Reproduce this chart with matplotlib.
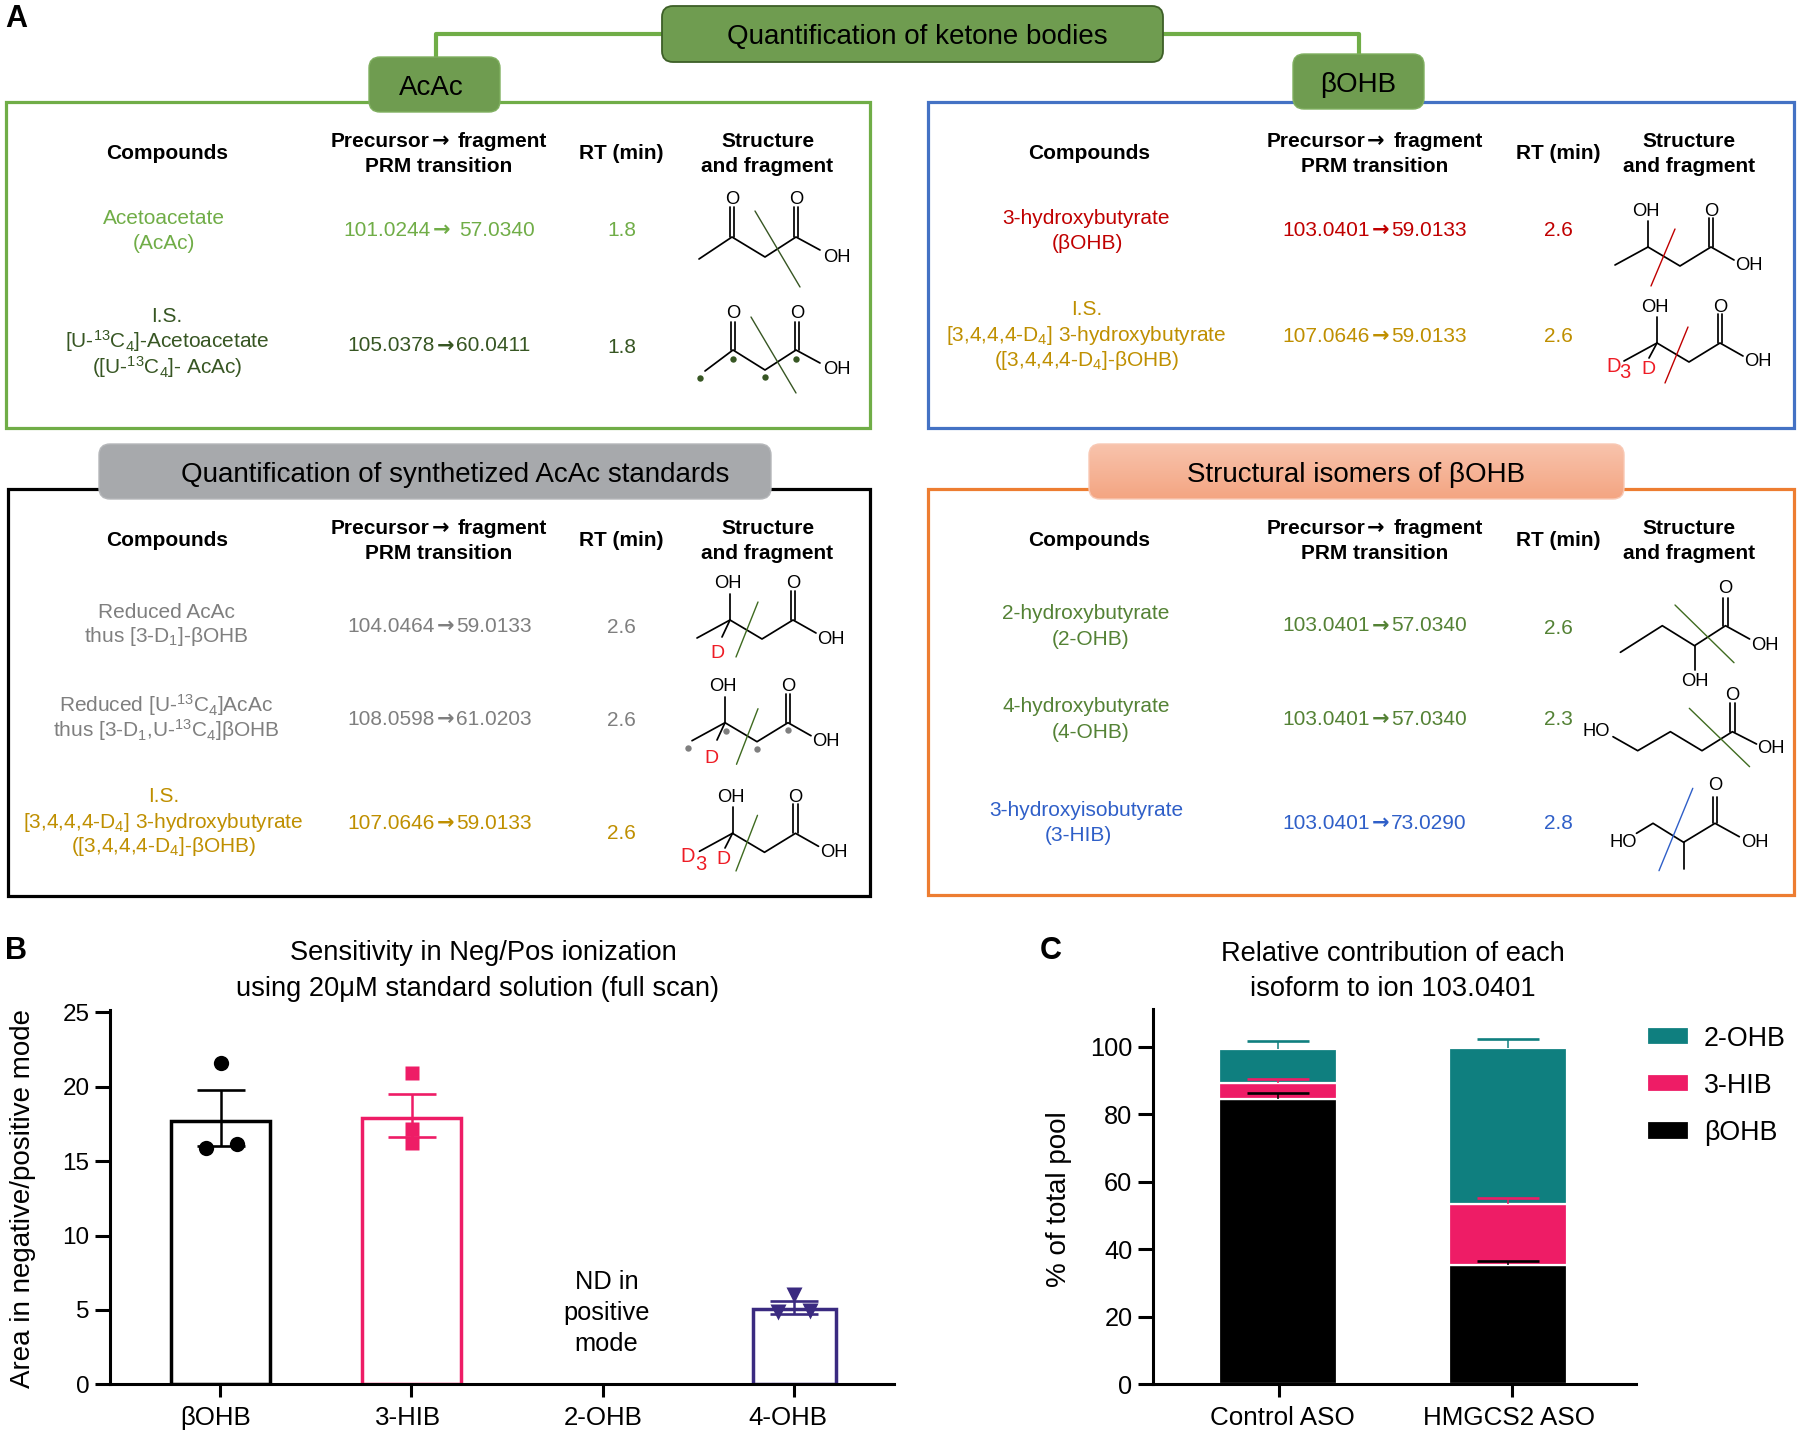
import numpy as np
import matplotlib
matplotlib.use("Agg")
import matplotlib.pyplot as plt
from matplotlib.patches import FancyBboxPatch, Rectangle
from matplotlib.colors import LinearSegmentedColormap
from matplotlib.transforms import ScaledTranslation

plt.rcParams['font.family'] = ['Liberation Sans', 'DejaVu Sans']
plt.rcParams['mathtext.fontset'] = 'custom'
plt.rcParams['mathtext.rm'] = 'Liberation Sans'
plt.rcParams['mathtext.it'] = 'Liberation Sans'
plt.rcParams['mathtext.bf'] = 'Liberation Sans:bold'
plt.rcParams['mathtext.default'] = 'regular'

# ---------- data: panel B ----------
b_categories = ["βOHB", "3-HIB", "2-OHB", "4-OHB"]
b_means = [17.72, 17.9, 0, 5.06]
b_err_low = [1.72, 1.25, 0, 0.33]
b_err_high = [2.04, 1.6, 0, 0.54]
b_points_bohb = [21.57, 15.9, 16.15]
b_points_hib = [20.9, 17.16, 16.2]
b_points_4ohb = [6.0, 4.88, 4.9]
b_yticks = [0, 5, 10, 15, 20, 25]
# ---------- data: panel C ----------
c_categories = ["Control ASO", "HMGCS2 ASO"]
c_bohb = [84.4, 35.2]
c_hib = [4.9, 18.3]
c_2ohb = [10.1, 46.2]
c_err_bohb = [1.9, 1.4]
c_err_hib = [1.2, 1.6]
c_err_2ohb = [2.2, 2.6]
c_yticks = [0, 20, 40, 60, 80, 100]
# ---------- data: tables ----------
acac_names = [["Acetoacetate", "(AcAc)"],
              ["I.S.", "[U-$^{13}$C$_4$]-Acetoacetate", "([U-$^{13}$C$_4$]- AcAc)"]]
acac_trans = ["101.0244→ 57.0340", "105.0378→60.0411"]
acac_rt = ["1.8", "1.8"]
bohb_names = [["3-hydroxybutyrate", "(βOHB)"],
              ["I.S.", "[3,4,4,4-D$_4$] 3-hydroxybutyrate", "([3,4,4,4-D$_4$]-βOHB)"]]
bohb_trans = ["103.0401→59.0133", "107.0646→59.0133"]
bohb_rt = ["2.6", "2.6"]
std_names = [["Reduced AcAc", "thus [3-D$_1$]-βOHB"],
             ["Reduced [U-$^{13}$C$_4$]AcAc", "thus [3-D$_1$,U-$^{13}$C$_4$]βOHB"],
             ["I.S.", "[3,4,4,4-D$_4$] 3-hydroxybutyrate", "([3,4,4,4-D$_4$]-βOHB)"]]
std_trans = ["104.0464→59.0133", "108.0598→61.0203", "107.0646→59.0133"]
std_rt = ["2.6", "2.6", "2.6"]
iso_names = [["2-hydroxybutyrate", "(2-OHB)"],
             ["4-hydroxybutyrate", "(4-OHB)"],
             ["3-hydroxyisobutyrate", "(3-HIB)"]]
iso_trans = ["103.0401→57.0340", "103.0401→57.0340", "103.0401→73.0290"]
iso_rt = ["2.6", "2.3", "2.8"]

# ---------- styles ----------
GREEN = '#70AD47'; DGREEN = '#375623'; RED = '#C00000'; GOLD = '#BF8F00'
GREY = '#7F7F7F'; MGREEN = '#548235'; BLUE = '#2F5FC8'; BRIGHTRED = '#EE1C25'
CUTGREEN = '#3F6B20'
PINK = '#EE1C66'; INDIGO = '#3A2A80'; TEAL = '#0F7F7F'
PILL = '#6F9C50'
TS = 15.0

fig = plt.figure(figsize=(18, 14.35), dpi=100, facecolor='white')
ov = fig.add_axes([0, 0, 1, 1], zorder=0)
ov.set_xlim(0, 1800); ov.set_ylim(1435, 0); ov.axis('off')
renderer = fig.canvas.get_renderer()


def T(x, y, s, size=TS, color='black', weight='normal', ha='center'):
    y = y - 1.2 - (1.5 if '$' in s else 0)
    return ov.text(x, y, s, fontsize=size, color=color, fontweight=weight, ha=ha, va='center_baseline', zorder=7)


def TA(xc, y, s, color='black', weight='normal', size=TS, gap=21):
    """Text with a heavy arrow between two parts; a blank after the arrow widens the gap."""
    a, b = s.split('→')
    if b.startswith(' '):
        gap += 7
        b = b.strip()
    t1 = T(0, y, a, size, color, weight, ha='left')
    t2 = T(0, y, b, size, color, weight, ha='left')
    w1 = t1.get_window_extent(renderer).width
    w2 = t2.get_window_extent(renderer).width
    x0 = xc - (w1 + gap + w2) / 2
    t1.set_x(x0)
    t2.set_x(x0 + w1 + gap)
    ov.text(x0 + w1 + 10.5, y - 1.2, '→', fontsize=size, color=color, fontweight='bold', family='DejaVu Sans',
            ha='center', va='center_baseline', zorder=7)


def box(l, t, r, b, color):
    ov.add_patch(Rectangle((l, t), r - l, b - t, fill=False, edgecolor=color, lw=2.3, joinstyle='miter', zorder=2))


def pill(l, t, r, b, face, edge, lw=1.0, rad=11):
    p = FancyBboxPatch((l, t), r - l, b - t, boxstyle=f"round,pad=0,rounding_size={rad}",
                       facecolor=face, edgecolor=edge, lw=lw, zorder=4)
    ov.add_patch(p)
    return p


def L(xs, ys, color='black', lw=1.25, z=5):
    ov.plot(xs, ys, color=color, lw=lw, solid_capstyle='round', zorder=z)


def dbl(x, y0, y1, color='black'):
    for d in (-2.1, 2.1):
        L([x + d, x + d], [y0, y1], color)


def chem(x, y, s, color='black', size=13.2):
    ov.text(x, y, s, fontsize=size, color=color, ha='center', va='center', zorder=6)


def dots(pts, color):
    for x, y in pts:
        ov.plot([x], [y], 'o', ms=4.6, color=color, mec='none', zorder=6)


# ---------- panel A frames ----------
L([662, 436, 436], [34, 34, 57], GREEN, lw=3, z=1)
L([1163, 1359, 1359], [34, 34, 54], GREEN, lw=3, z=1)
box(6, 102, 870, 428, GREEN)
box(928, 102, 1794, 428, '#4472C4')
box(8, 489, 870, 896, 'black')
box(928, 489, 1794, 895, '#ED7D31')
pill(662, 6, 1163, 62, PILL, '#3D5F27', lw=1.3)
pill(369, 57, 500, 112, PILL, '#7FAF5F')
pill(1293, 54, 1424, 109, PILL, '#7FAF5F')
pill(99, 444, 771, 499, '#A7A9AC', '#B5B7BA')
op = pill(1089, 444, 1624, 499, 'none', '#F8C8B4')
grad = LinearSegmentedColormap.from_list('g', ['#F8C3AC', '#F4A582'])
im = ov.imshow(np.linspace(0, 1, 64).reshape(-1, 1), cmap=grad, extent=(1089, 1624, 499, 444),
               aspect='auto', zorder=3.9)
im.set_clip_path(op)
ov.set_xlim(0, 1800); ov.set_ylim(1435, 0)

T(917.5, 35.5, "Quantification of ketone bodies", 20)
T(431, 86.5, "AcAc", 20)
T(1358, 83, "βOHB", 20)
T(455.5, 473.5, "Quantification of synthetized AcAc standards", 20)
T(1356.5, 473.5, "Structural isomers of βOHB", 20)

T(16, 17, "A", 22, weight='bold')
T(16, 949, "B", 22, weight='bold')
T(1051, 949, "C", 22, weight='bold')


def headers(xs, y):
    T(xs[0], y, "Compounds", weight='bold')
    TA(xs[1], y - 12.5, "Precursor→ fragment", weight='bold')
    T(xs[1], y + 12.5, "PRM transition", weight='bold')
    T(xs[2], y, "RT (min)", weight='bold')
    T(xs[3], y - 12.5, "Structure", weight='bold')
    T(xs[3], y + 12.5, "and fragment", weight='bold')


LX = (166.7, 439, 621, 767.5)
RX = (1089.4, 1374.5, 1558, 1689.3)
headers(LX, 153); headers(RX, 153)
headers(LX, 540); headers(RX, 540)


def row(names, name_pos, trans, tx, ty, rt, rx, ry, color):
    for s, (x, y) in zip(names, name_pos):
        T(x, y, s, color=color)
    TA(tx, ty, trans, color=color)
    T(rx, ry, rt, color=color)


row(acac_names[0], [(164, 218), (164, 243)], acac_trans[0], 439, 229.5, acac_rt[0], 621.4, 230, GREEN)
row(acac_names[1], [(167, 316), (167, 341), (167, 367)], acac_trans[1], 439, 345, acac_rt[1], 621.4, 346.7, DGREEN)
row(bohb_names[0], [(1086, 218), (1087, 243)], bohb_trans[0], 1374.5, 229.7, bohb_rt[0], 1558, 230, RED)
row(bohb_names[1], [(1086.6, 309), (1086.6, 335), (1086.6, 360)], bohb_trans[1], 1374.5, 335.7, bohb_rt[1], 1558, 335.7, GOLD)
row(std_names[0], [(166.5, 611.7), (166.5, 636.7)], std_trans[0], 439.4, 625.3, std_rt[0], 621, 626.7, GREY)
row(std_names[1], [(166.5, 705), (166.5, 730)], std_trans[1], 439.4, 718.3, std_rt[1], 621, 719.3, GREY)
row(std_names[2], [(163.6, 795.3), (163.6, 821.7), (163.6, 846.7)], std_trans[2], 439.4, 822.7, std_rt[2], 621, 832.7, GOLD)
row(iso_names[0], [(1086, 612.7), (1091, 638.3)], iso_trans[0], 1374.5, 625, iso_rt[0], 1558, 627.7, MGREEN)
row(iso_names[1], [(1086, 706), (1091, 731.7)], iso_trans[1], 1374.5, 718.3, iso_rt[1], 1558, 719, MGREEN)
row(iso_names[2], [(1086, 810), (1078, 835)], iso_trans[2], 1374.5, 822.3, iso_rt[2], 1558, 822.3, BLUE)


# ---------- structures ----------
def hydroxy(cx, cy, cut, cutc, ch3=True):
    """3-hydroxybutyrate skeleton anchored on its CH(OH) carbon"""
    if ch3:
        L([cx - 33, cx], [cy + 18, cy])
    L([cx, cx + 32, cx + 63, cx + 86], [cy, cy + 19, cy, cy + 13])
    L([cx, cx], [cy, cy - 26])
    dbl(cx + 63, cy, cy - 29)
    chem(cx - 2, cy - 36, "OH"); chem(cx + 63, cy - 36, "O"); chem(cx + 101, cy + 19, "OH")
    L([cx + cut[0], cx + cut[2]], [cy + cut[1], cy + cut[3]], cutc, lw=1.0, z=6)


# AcAc
L([699, 732, 765, 796, 820], [259, 237, 257, 237, 250])
dbl(732, 237, 207); dbl(796, 237, 207)
chem(732, 200, "O"); chem(796, 200, "O"); chem(837, 257, "OH")
L([755, 800], [211, 287], DGREEN, lw=1.0, z=6)
# 13C AcAc
L([705, 733, 765, 796, 820], [371, 350, 370, 350, 363])
dbl(733, 350, 322); dbl(797, 350, 322)
chem(733, 313, "O"); chem(797, 313, "O"); chem(837, 369, "OH")
L([751, 796], [317, 393], DGREEN, lw=1.0, z=6)
dots([(700, 378), (733, 359), (765, 377), (796, 359)], DGREEN)
# bOHB
hydroxy(1648, 247, (27, -18, 3, 39), RED)
# D4 bOHB
hydroxy(1657, 343, (31, -16, 8, 40), RED)
L([1657, 1649], [343, 358])
chem(1613.5, 367, "D", BRIGHTRED, 14.5); chem(1625, 373, "3", BRIGHTRED, 14.5); chem(1648, 369, "D", BRIGHTRED, 14)
# D1
hydroxy(730, 620, (28, -18, 6, 37), CUTGREEN)
L([730, 722], [620, 637]); chem(717.6, 653, "D", BRIGHTRED, 14)
# D1 13C
hydroxy(725, 722.7, (33, -14, 11.5, 41.6), CUTGREEN)
L([725, 717], [722.7, 740]); chem(711.8, 758.3, "D", BRIGHTRED, 14)
dots([(687.7, 747.7), (726, 731), (756.6, 749), (787.6, 730)], GREY)
# D4 in standards panel
hydroxy(732.5, 833.3, (25, -18, 3.5, 37.7), CUTGREEN)
L([732.5, 725], [833.3, 848])
chem(687.7, 857, "D", BRIGHTRED, 14.5); chem(701, 864, "3", BRIGHTRED, 14.5); chem(723, 859, "D", BRIGHTRED, 14)
# 2-OHB
L([1620.4, 1662.3, 1694.5, 1725.5, 1749.6], [652.3, 625.7, 645.7, 625.7, 639])
dbl(1725.5, 625.7, 598.3)
L([1694.5, 1694.5], [645.7, 670])
chem(1725.5, 588.3, "O"); chem(1764.5, 645, "OH"); chem(1694.5, 681, "OH")
L([1675, 1734], [605, 662.7], CUTGREEN, lw=1.0, z=6)
# 4-OHB
L([1613, 1637.7, 1670.4, 1702, 1732.4, 1756.5], [736.7, 750.7, 731.7, 750.7, 731.7, 744])
dbl(1732.4, 731.7, 703)
chem(1595.8, 731, "HO"); chem(1732.4, 695, "O"); chem(1770.8, 748.3, "OH")
L([1689.3, 1749.6], [708.3, 766.7], CUTGREEN, lw=1.0, z=6)
# 3-HIB
L([1636.5, 1653, 1683.6, 1715, 1739.3], [833.3, 823.3, 842.3, 823.3, 836.7])
dbl(1715, 823.3, 796.7)
L([1683.6, 1683.6], [842.3, 869.3])
chem(1623, 842.3, "HO"); chem(1715, 786, "O"); chem(1754.8, 842.3, "OH")
L([1692.8, 1659], [788.3, 870.7], BLUE, lw=1.0, z=6)


# ---------- charts ----------
def px_axes(l, t, r, b):
    ax = fig.add_axes([l / 1800, (1435 - b) / 1435, (r - l) / 1800, (b - t) / 1435], zorder=3)
    ax.patch.set_alpha(0)
    for s in ('top', 'right'):
        ax.spines[s].set_visible(False)
    for s in ('left', 'bottom'):
        ax.spines[s].set_linewidth(2.2)
    return ax


def nudge(ax, offsets):
    for lab, dx in zip(ax.get_xticklabels(), offsets):
        lab.set_transform(lab.get_transform() + ScaledTranslation(dx / 100, 0, fig.dpi_scale_trans))


# Panel B
axb = px_axes(110, 1010, 894, 1384.3)
axb.set_xlim(-0.5715, 3.52)
axb.set_ylim(0, (1384.3 - 1010) / 14.88)
bx = np.arange(len(b_categories))
b_widths = [0.515, 0.515, 0.43, 0.43]
b_colors = ['black', PINK, 'none', INDIGO]
axb.bar(bx + np.array([0.005, 0.003, 0, 0]), b_means, width=b_widths, facecolor='none',
        edgecolor=b_colors, lw=2.5, zorder=2)
b_sets = [(0, b_points_bohb, [0.01, -0.07, 0.09], 'o', 'black', 11),
          (1, b_points_hib, [0.004, 0.004, 0.004], 's', PINK, 10.5),
          (3, b_points_4ohb, [0, -0.083, 0.08], 'v', INDIGO, 11)]
for i, pts, jit, mk, col, ms in b_sets:
    axb.errorbar(i + jit[0], b_means[i], yerr=[[b_err_low[i]], [b_err_high[i]]], color=col,
                 elinewidth=1.8, capsize=17, capthick=1.9, zorder=3, clip_on=False)
    axb.plot(i + np.array(jit), pts, ls='none', marker=mk, color=col, mec='none', ms=ms, zorder=4, clip_on=False)
axb.set_xticks(bx, b_categories, fontsize=18.6)
axb.set_yticks(b_yticks)
axb.tick_params(axis='y', labelsize=17.5, length=10.8, width=2.2, pad=4)
axb.tick_params(axis='x', length=9.5, width=2.2, pad=6)
nudge(axb, [-3.5, -3, 0, -6])
axb.set_ylabel("Area in negative/positive mode", fontsize=20, va='center')
axb.yaxis.set_label_coords(-0.111, 0.497)
for y, s in zip((1282, 1313, 1344), ("ND in", "positive", "mode")):
    T(606.5, y - 1, s, 18.3)
T(483.6, 951.7, "Sensitivity in Neg/Pos ionization", 19.6)
T(478, 987.7, "using 20μM standard solution (full scan)", 19.6)

# Panel C
axc = px_axes(1153, 1009, 1636, 1384.3)
axc.set_xlim(-0.543, 1.557)
axc.set_ylim(0, (1384.3 - 1009) / 3.376)
cx = np.arange(len(c_categories))
bottoms = np.zeros(len(cx))
handles = []
series = [(c_bohb, 'black', c_err_bohb), (c_hib, PINK, c_err_hib), (c_2ohb, TEAL, c_err_2ohb)]
for vals, col, errs in series:
    h = axc.bar(cx, vals, bottom=bottoms, width=0.513, color=col, edgecolor='white', lw=1.6, zorder=2)
    handles.append(h)
    tops = bottoms + np.array(vals)
    axc.errorbar(cx, tops, yerr=[np.zeros_like(tops), errs], fmt='none', ecolor=col, elinewidth=1.1, zorder=3)
    axc.plot(cx, tops + np.array(errs), ls='none', marker='_', ms=44, mew=1.9, color=col, zorder=3)
    bottoms = tops
axc.set_xticks([0.004, 1.017], c_categories, fontsize=18.7)
axc.set_yticks(c_yticks)
axc.tick_params(axis='y', labelsize=18.3, length=10.8, width=2.2, pad=4)
axc.tick_params(axis='x', length=9.5, width=2.2, pad=6)
nudge(axc, [4, -3])
axc.set_ylabel("% of total pool", fontsize=20, va='center')
axc.yaxis.set_label_coords((1059 - 1153) / 483, (1384.3 - 1199) / 375.3)
axc.legend(handles=handles[::-1], labels=["2-OHB", "3-HIB", "βOHB"], loc='upper left',
           bbox_to_anchor=(1647 / 1800, (1435 - 1025.5) / 1435), bbox_transform=fig.transFigure,
           frameon=False, fontsize=19.3, borderpad=0, borderaxespad=0, handlelength=1.57,
           handleheight=0.67, handletextpad=0.56, labelspacing=0.79)
T(1393, 952, "Relative contribution of each", 19.6)
T(1393, 987, "isoform to ion 103.0401", 19.6)

fig.savefig("out.png", dpi=100, facecolor='white')
